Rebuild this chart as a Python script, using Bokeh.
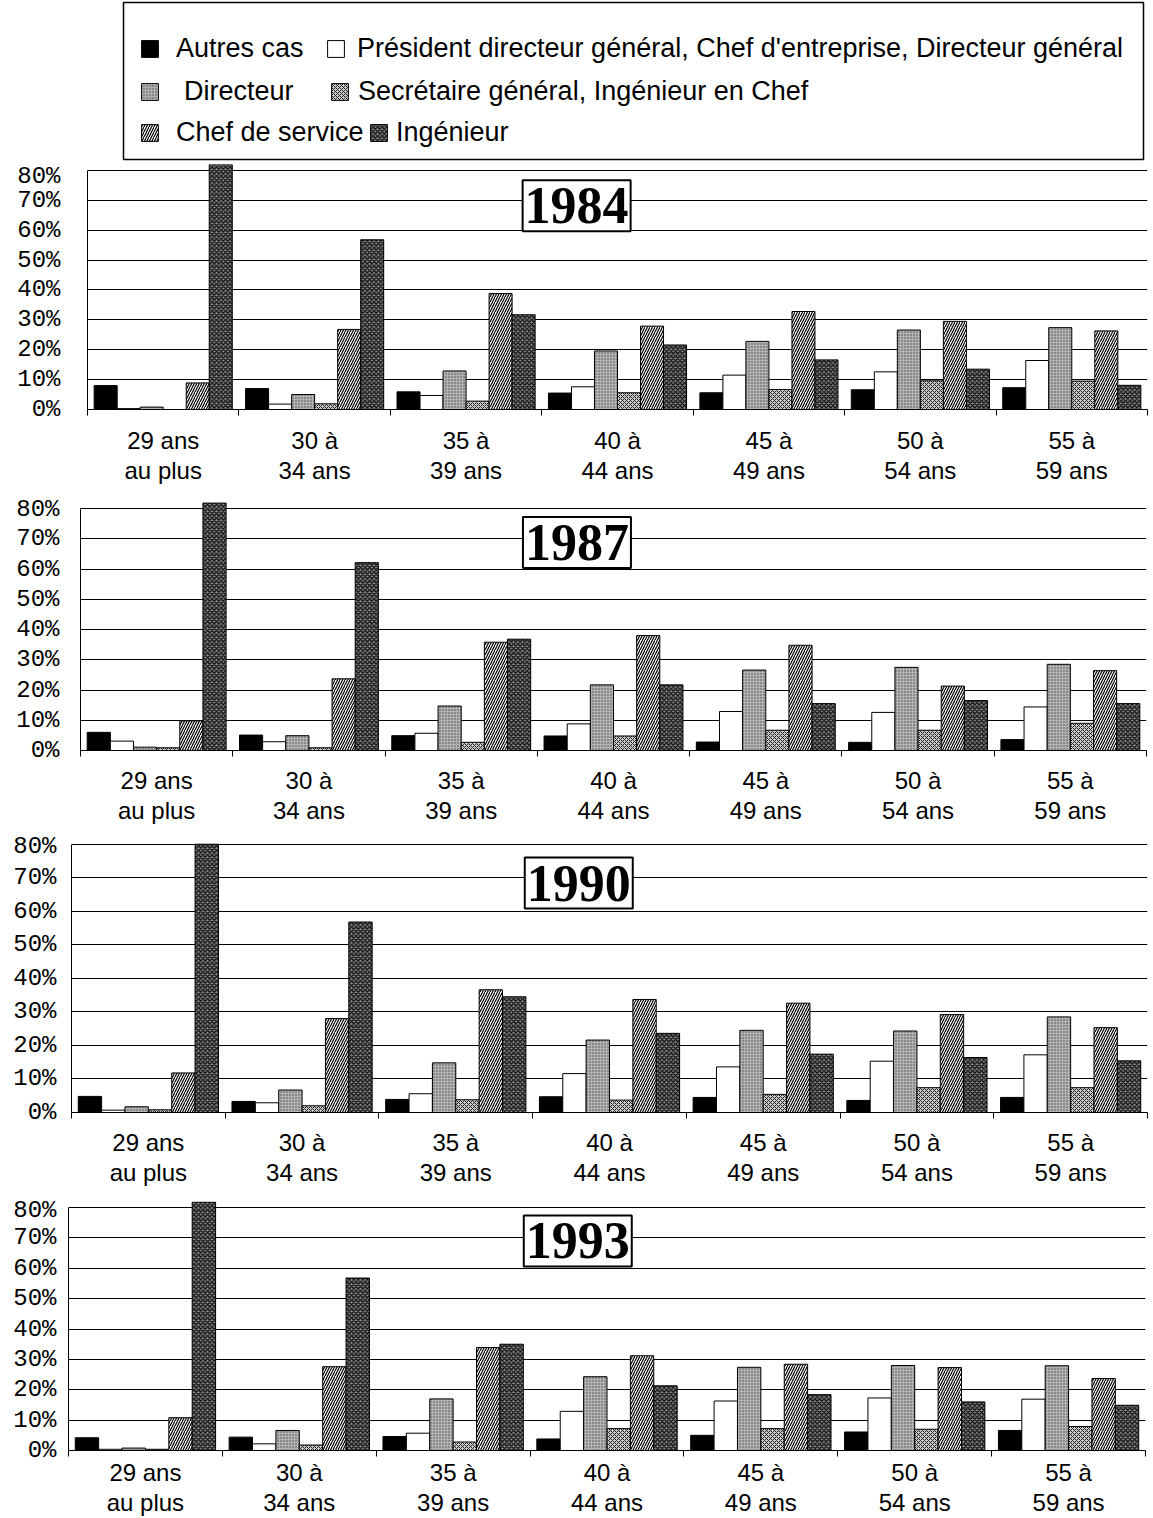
import numpy as np
from bokeh.plotting import figure
from bokeh.models import (ColumnDataSource, FixedTicker, PrintfTickFormatter, Label,
                          Legend, LegendItem, LinearAxis, Range1d, Grid)
from bokeh.embed import file_html
from bokeh.resources import INLINE

# ---------------------------------------------------------------- data
age_labels = ["29 ans\nau plus", "30 à\n34 ans", "35 à\n39 ans", "40 à\n44 ans",
              "45 à\n49 ans", "50 à\n54 ans", "55 à\n59 ans"]
series_names = ["Autres cas",
                "Président directeur général, Chef d'entreprise, Directeur général",
                "Directeur",
                "Secrétaire général, Ingénieur en Chef",
                "Chef de service",
                "Ingénieur"]
years = [1984, 1987, 1990, 1993]
y_ticks = [0, 10, 20, 30, 40, 50, 60, 70, 80]

# shares (%) by age group
autres_1984 = [8.0, 7.0, 5.9, 5.5, 5.6, 6.6, 7.3]
pdg_1984 = [0.3, 1.8, 4.7, 7.6, 11.5, 12.6, 16.4]
directeur_1984 = [0.8, 5.0, 12.9, 19.6, 22.8, 26.6, 27.4]
secretaire_1984 = [0.0, 1.9, 2.8, 5.6, 6.7, 9.6, 9.5]
chef_service_1984 = [8.9, 26.8, 38.8, 27.9, 32.8, 29.5, 26.3]
ingenieur_1984 = [82.0, 56.8, 31.7, 21.6, 16.6, 13.5, 8.1]

autres_1987 = [6.0, 5.1, 4.9, 4.8, 2.8, 2.7, 3.6]
pdg_1987 = [3.1, 2.9, 5.7, 8.8, 12.9, 12.6, 14.4]
directeur_1987 = [1.1, 4.9, 14.7, 21.7, 26.6, 27.5, 28.5]
secretaire_1987 = [0.9, 0.9, 2.7, 4.8, 6.7, 6.7, 9.0]
chef_service_1987 = [9.8, 23.7, 35.8, 38.0, 34.8, 21.3, 26.4]
ingenieur_1987 = [81.9, 62.1, 36.8, 21.7, 15.5, 16.5, 15.5]

autres_1990 = [4.8, 3.3, 3.9, 4.7, 4.5, 3.6, 4.5]
pdg_1990 = [0.7, 2.9, 5.6, 11.6, 13.6, 15.3, 17.2]
directeur_1990 = [1.7, 6.7, 14.8, 21.6, 24.5, 24.3, 28.5]
secretaire_1990 = [0.8, 2.0, 3.8, 3.7, 5.4, 7.4, 7.4]
chef_service_1990 = [11.8, 28.0, 36.6, 33.7, 32.6, 29.2, 25.3]
ingenieur_1990 = [80.0, 56.8, 34.5, 23.6, 17.4, 16.4, 15.4]

autres_1993 = [4.2, 4.4, 4.6, 3.8, 5.0, 6.1, 6.6]
pdg_1993 = [0.4, 2.2, 5.7, 12.9, 16.3, 17.3, 16.9]
directeur_1993 = [0.8, 6.6, 17.0, 24.3, 27.4, 28.0, 27.9]
secretaire_1993 = [0.4, 1.8, 2.8, 7.2, 7.2, 7.0, 7.9]
chef_service_1993 = [10.8, 27.6, 33.9, 31.2, 28.4, 27.3, 23.7]
ingenieur_1993 = [81.8, 56.8, 35.0, 21.3, 18.4, 16.0, 14.9]

table = {
    1984: [autres_1984, pdg_1984, directeur_1984, secretaire_1984, chef_service_1984, ingenieur_1984],
    1987: [autres_1987, pdg_1987, directeur_1987, secretaire_1987, chef_service_1987, ingenieur_1987],
    1990: [autres_1990, pdg_1990, directeur_1990, secretaire_1990, chef_service_1990, ingenieur_1990],
    1993: [autres_1993, pdg_1993, directeur_1993, secretaire_1993, chef_service_1993, ingenieur_1993],
}

# ---------------------------------------------------------------- styles
W = 1153
BAR_W = 0.152
offsets = [(k - 2.5) * BAR_W for k in range(6)]

bar_styles = [
    dict(fill_color="black"),
    dict(fill_color="white"),
    dict(fill_color="#b4b4b4", hatch_pattern="dot", hatch_color="#444444",
         hatch_scale=3, hatch_weight=1),
    dict(fill_color="#cccccc", hatch_pattern="diagonal_cross", hatch_color="#222222",
         hatch_scale=4, hatch_weight=1),
    dict(fill_color="white", hatch_pattern="right_diagonal_line", hatch_color="black",
         hatch_scale=5, hatch_weight=1.2),
    dict(fill_color="#858585", hatch_pattern="diagonal_cross", hatch_color="black",
         hatch_scale=4.5, hatch_weight=1.2),
]
for s in bar_styles:
    s.update(line_color="black", line_width=1)


def series_source(year, k):
    return ColumnDataSource(dict(x=[i + offsets[k] for i in range(7)],
                                 top=table[year][k]))


# panel geometry: frame left/right, border top, frame height, border bottom,
# year box position (data units), y-label standoff, x-label standoff
panel_geom = {
    1984: dict(left=87, right=1147, top=2, frame=245, bottom=86, box=(2.73, 68.2), standoff=27, xstand=11),
    1987: dict(left=80, right=1146, top=7, frame=248, bottom=82, box=(2.76, 68.8), standoff=21, xstand=10),
    1990: dict(left=71, right=1147, top=5, frame=275, bottom=84, box=(2.80, 68.4), standoff=15, xstand=10),
    1993: dict(left=68, right=1145, top=5, frame=249, bottom=68, box=(2.81, 69.0), standoff=12, xstand=2),
}

# ---------------------------------------------------------------- legend block
# the legend lives in its own box; its swatches come from renderers kept
# outside the visible range of this small figure
lg = figure(width=W, height=162, x_range=Range1d(100, 101), y_range=Range1d(500, 501),
            x_axis_type=None, y_axis_type=None, output_backend="svg",
            toolbar_location=None, min_border_left=123, min_border_right=W - 1143,
            min_border_top=2, min_border_bottom=3,
            outline_line_color="black", outline_line_width=1.5)

# swatch left edge (page x), row centre (page y), text standoff
legend_slots = [(141, 49, 16), (327, 49, 11), (141, 92, 24),
                (331, 92, 8), (141, 133, 16), (370, 133, 7)]
FRAME_L, FRAME_B = 123, 159
for k, (sx, cy, gap) in enumerate(legend_slots):
    r = lg.vbar(x="x", top="top", width=BAR_W, source=series_source(1984, k), **bar_styles[k])
    leg = Legend(items=[LegendItem(label=series_names[k], renderers=[r], index=0)],
                 location=(sx - 2 - FRAME_L, FRAME_B - cy - 15),
                 padding=0, margin=0, border_line_color=None,
                 background_fill_alpha=0, glyph_width=21, glyph_height=21,
                 label_standoff=gap, label_text_font="Liberation Sans",
                 label_text_font_size="27px", label_text_color="black",
                 label_height=30)
    lg.add_layout(leg)

# ---------------------------------------------------------------- panels
roots = [lg]
for year in years:
    g = panel_geom[year]
    p = figure(width=W, height=g["top"] + g["frame"] + g["bottom"],
               x_range=Range1d(-0.5, 6.5), y_range=Range1d(0, 82),
               x_axis_type=None, y_axis_type=None, output_backend="svg",
               toolbar_location=None, outline_line_color=None,
               min_border_left=g["left"], min_border_right=W - g["right"],
               min_border_top=g["top"], min_border_bottom=g["bottom"])

    xa = LinearAxis(ticker=FixedTicker(ticks=list(range(7)),
                                       minor_ticks=[i - 0.5 for i in range(8)]))
    xa.major_label_overrides = {i: lab for i, lab in enumerate(age_labels)}
    xa.major_tick_out = 0
    xa.major_tick_in = 0
    xa.minor_tick_out = 6
    xa.minor_tick_in = 0
    xa.minor_tick_line_color = "black"
    xa.axis_line_color = "black"
    xa.major_label_text_font = "Liberation Sans"
    xa.major_label_text_font_size = "24px"
    xa.major_label_text_line_height = 1.12
    xa.major_label_text_color = "black"
    xa.major_label_standoff = g["xstand"]
    p.add_layout(xa, "below")

    ya = LinearAxis(ticker=FixedTicker(ticks=y_ticks, minor_ticks=[]),
                    formatter=PrintfTickFormatter(format="%d%%"), bounds=(0, 80))
    ya.major_tick_out = 0
    ya.major_tick_in = 0
    ya.minor_tick_out = 0
    ya.minor_tick_in = 0
    ya.axis_line_color = "black"
    ya.major_label_text_font = "Liberation Mono"
    ya.major_label_text_font_size = "24px"
    ya.major_label_text_color = "black"
    ya.major_label_standoff = g["standoff"]
    p.add_layout(ya, "left")

    p.add_layout(Grid(dimension=1, ticker=ya.ticker, grid_line_color="black",
                      grid_line_width=1))

    for k in range(6):
        p.vbar(x="x", top="top", bottom=0, width=BAR_W, source=series_source(year, k),
               **bar_styles[k])

    bx, by = g["box"]
    p.add_layout(Label(x=bx, y=by, text=str(year), text_align="center",
                       text_baseline="middle", text_font="Liberation Serif",
                       text_font_style="bold", text_font_size="52px",
                       text_color="black", border_line_color="black",
                       border_line_width=2, background_fill_color="white",
                       padding=(2, 8)))
    roots.append(p)

open("out.html", "w").write(file_html(roots, INLINE))
